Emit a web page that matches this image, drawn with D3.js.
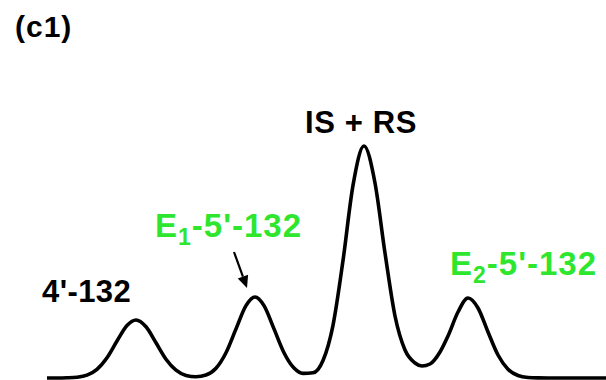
<!DOCTYPE html>
<html>
<head>
<meta charset="utf-8">
<script src="https://cdn.jsdelivr.net/npm/d3@7"></script>
<style>
  body { margin: 0; background: #fff; }
  svg { display: block; }
  text { font-family: "Liberation Sans", Arial, sans-serif; font-weight: bold; }
</style>
</head>
<body>
<div id="chart"></div>
<script>
// retention time (arbitrary units) and detector signal
var time = [0, 1, 2, 3, 4, 5, 6, 7, 8, 8.9, 9.9, 10.9, 11.9, 12.9, 13.9, 14.9, 15.9, 16.9, 17.9, 18.9,
            19.9, 20.8, 21.7, 22.7, 23.7, 24.7, 25.6, 26.6, 27.6, 28.6, 29.6, 30.6, 31.7, 32.8, 33.8,
            34.8, 35.8, 36.8, 37.5, 38.3, 39.3, 40.1, 41.1, 42.1, 43.1, 44.1, 45.1, 46.1, 47.1, 48.1,
            49.1, 50.1, 56];
var signal = [0, 0, 0.2, 0.8, 2.9, 8.7, 20.3, 37, 52.5, 58, 51.2, 35.2, 18.8, 7.8, 2.6, 1.3, 3.0, 9.8, 25.3, 49.1,
              72.4, 81, 72.4, 49.1, 25.3, 9.9, 4.6, 5.2, 17.5, 52.7, 117.4, 192.6, 232, 195, 125,
              62, 28, 15, 12, 14, 26, 42, 66, 80, 70, 46, 23, 8.8, 2.5, 0.5,
              0.1, 0, 0];

// peak labels: name, subscript, rest, peak time, peak height, colour
var peakNames = ["4'-132", "E", "IS + RS", "E"];
var peakSubs = ["", "1", "", "2"];
var peakRest = ["", "-5'-132", "", "-5'-132"];
var peakTimes = [8.9, 20.8, 31.7, 42.1];
var peakHeights = [58, 81, 232, 80];
var peakColors = ["#000", "#2ee62e", "#000", "#2ee62e"];

var W = 606, H = 380;

var svg = d3.select("#chart").append("svg")
    .attr("width", W)
    .attr("height", H);

var x = d3.scaleLinear().domain([0, 56]).range([47, 607]);
var y = d3.scaleLinear().domain([0, 240]).range([378, 138]);

svg.append("text")
    .attr("x", 15)
    .attr("y", 37)
    .style("font-size", "30px")
    .style("letter-spacing", "1px")
    .text("(c1)");

var line = d3.line()
    .x(function (d, i) { return x(time[i]); })
    .y(function (d) { return y(d); })
    .curve(d3.curveMonotoneX);

svg.append("path")
    .datum(signal)
    .attr("fill", "none")
    .attr("stroke", "#000")
    .attr("stroke-width", 3.6)
    .attr("stroke-linejoin", "round")
    .attr("d", line);

// label anchor points and sizes
var labelPos = [
    { x: 42, y: 302, anchor: "start", size: 31, ls: 0.4 },
    { x: 155, y: 237, anchor: "start", size: 33, ls: 1 },
    { x: x(peakTimes[2]) - 3, y: 133, anchor: "middle", size: 31, ls: 0.6 },
    { x: 450, y: 275, anchor: "start", size: 33, ls: 1 }
];

peakNames.forEach(function (name, i) {
    var p = labelPos[i];
    var t = svg.append("text")
        .attr("x", p.x)
        .attr("y", p.y)
        .attr("text-anchor", p.anchor)
        .attr("fill", peakColors[i])
        .style("font-size", p.size + "px")
        .style("letter-spacing", p.ls + "px");
    t.append("tspan").text(name);
    if (peakSubs[i]) {
        t.append("tspan").attr("dy", 8).style("font-size", "23px").text(peakSubs[i]);
        t.append("tspan").attr("dy", -8).text(peakRest[i]);
    }
});

// arrow to the E1 peak
var tipX = x(peakTimes[1]) - 8, tipY = y(peakHeights[1]) - 9;
var fromX = 234, fromY = 252;
var ang = Math.atan2(tipY - fromY, tipX - fromX);
var headL = 12, headW = 5.5;
var baseX = tipX - headL * Math.cos(ang), baseY = tipY - headL * Math.sin(ang);

svg.append("line")
    .attr("x1", fromX).attr("y1", fromY)
    .attr("x2", baseX).attr("y2", baseY)
    .attr("stroke", "#000")
    .attr("stroke-width", 2.2);

svg.append("path")
    .attr("fill", "#000")
    .attr("d", "M" + tipX + "," + tipY +
        "L" + (baseX + headW * Math.sin(ang)) + "," + (baseY - headW * Math.cos(ang)) +
        "L" + (baseX - headW * Math.sin(ang)) + "," + (baseY + headW * Math.cos(ang)) + "Z");
</script>
</body>
</html>
